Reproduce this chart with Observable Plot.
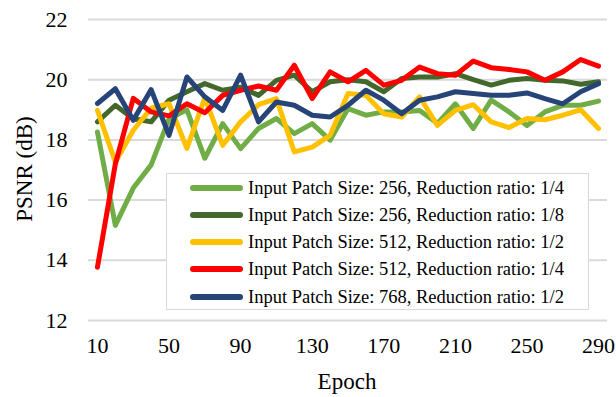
<!DOCTYPE html>
<html>
<head>
<meta charset="utf-8">
<script src="https://cdn.jsdelivr.net/npm/d3@7"></script>
<script src="https://cdn.jsdelivr.net/npm/@observablehq/plot@0.6"></script>
<style>
  html, body { margin: 0; padding: 0; background: #fff; }
  #wrap { position: relative; width: 616px; height: 397px; font-family: "Liberation Serif", "Times New Roman", serif; }
  #legend { position: absolute; left: 166px; top: 173px; width: 421px; height: 135px; border: 1.5px solid #d9d9d9; background: #fff; box-sizing: content-box; }
  .row { position: absolute; left: 0; height: 20px; display: flex; align-items: center; }
  .sw { width: 53px; height: 6px; border-radius: 3px; margin-left: 23px; margin-right: 5px; }
  .lbl { font-size: 18.5px; color: #000; white-space: nowrap; line-height: 20px; }
  .title { position: absolute; font-size: 23px; color: #000; white-space: nowrap; line-height: 26px; height: 26px; }
  #ytitle { left: 25px; top: 169px; transform: translate(-50%, -50%) rotate(-90deg); }
  #xtitle { left: 347px; top: 382px; transform: translate(-50%, -50%); }
</style>
</head>
<body>
<div id="wrap"></div>
<script>
const epochs = [10,20,30,40,50,60,70,80,90,100,110,120,130,140,150,160,170,180,190,200,210,220,230,240,250,260,270,280,290];
const xTicks = [10,50,90,130,170,210,250,290];
const yTicks = [12,14,16,18,20,22];
const xTitle = "Epoch";
const yTitle = "PSNR (dB)";
const seriesNames = [
  "Input Patch Size: 256, Reduction ratio: 1/4",
  "Input Patch Size: 256, Reduction ratio: 1/8",
  "Input Patch Size: 512, Reduction ratio: 1/2",
  "Input Patch Size: 512, Reduction ratio: 1/4",
  "Input Patch Size: 768, Reduction ratio: 1/2"
];
const seriesColors = ["#70AD47", "#43682B", "#FFC000", "#FF0000", "#264478"];
const p256r4 = [18.26,15.16,16.4,17.17,18.7,19.0,17.39,18.54,17.71,18.38,18.71,18.21,18.54,17.99,19.04,18.82,18.93,18.93,18.98,18.55,19.2,18.38,19.32,18.93,18.48,18.93,19.15,19.15,19.29];
const p256r8 = [18.6,19.15,18.7,18.6,19.32,19.6,19.87,19.65,19.75,19.48,19.98,20.15,19.6,19.93,20.0,19.93,19.6,20.04,20.09,20.09,20.2,20.0,19.82,19.98,20.04,19.98,19.96,19.85,19.93];
const p512r2 = [18.98,17.26,18.32,19.05,19.2,17.72,19.4,17.82,18.6,19.17,19.37,17.6,17.76,18.15,19.54,19.48,18.87,18.76,19.43,18.48,18.98,19.17,18.6,18.41,18.71,18.67,18.82,19.0,18.38];
const p512r4 = [13.77,17.2,19.38,18.93,18.8,19.2,18.9,19.48,19.65,19.79,19.65,20.48,19.37,20.26,19.93,20.31,19.82,19.98,20.42,20.2,20.15,20.62,20.4,20.34,20.26,19.98,20.26,20.67,20.45];
const p768r2 = [19.21,19.7,18.65,19.67,18.15,20.09,19.43,18.98,20.15,18.6,19.26,19.15,18.82,18.76,19.15,19.65,19.32,18.87,19.32,19.43,19.6,19.54,19.48,19.48,19.56,19.37,19.2,19.6,19.87];
const allSeries = [p256r4, p256r8, p512r2, p512r4, p768r2];

const data = [];
allSeries.forEach((vals, i) => vals.forEach((v, j) => data.push({series: seriesNames[i], epoch: epochs[j], psnr: v})));

const chart = Plot.plot({
  width: 616,
  height: 397,
  marginLeft: 88,
  marginRight: 9,
  marginTop: 19,
  marginBottom: 77,
  style: { fontFamily: "Liberation Serif, Times New Roman, serif", fontSize: "22px", color: "#000", background: "#fff" },
  x: { domain: [5, 295], ticks: xTicks },
  y: { domain: [12, 22], ticks: yTicks },
  color: { domain: seriesNames, range: seriesColors },
  marks: [
    Plot.gridY(yTicks, { stroke: "#d9d9d9", strokeOpacity: 1, strokeWidth: 2 }),
    Plot.axisY({ ticks: yTicks, tickSize: 0, tickPadding: 21, tickFormat: d => String(d), label: null }),
    Plot.axisX({ ticks: xTicks, tickSize: 0, tickPadding: 17, tickFormat: d => String(d), label: null }),
    Plot.lineY(data, { x: "epoch", y: "psnr", z: "series", stroke: "series", strokeWidth: 5, strokeLinejoin: "round", strokeLinecap: "round" })
  ]
});

const wrap = document.getElementById("wrap");
wrap.appendChild(chart);

const yt = document.createElement("div");
yt.id = "ytitle"; yt.className = "title"; yt.textContent = yTitle;
const xt = document.createElement("div");
xt.id = "xtitle"; xt.className = "title"; xt.textContent = xTitle;
wrap.appendChild(yt);
wrap.appendChild(xt);

const legend = document.createElement("div");
legend.id = "legend";
const rowCenters = [13.7, 41, 68.2, 95.4, 122.6];
seriesNames.forEach((name, i) => {
  const row = document.createElement("div");
  row.className = "row";
  row.style.top = (rowCenters[i] - 10) + "px";
  const sw = document.createElement("div");
  sw.className = "sw";
  sw.style.background = seriesColors[i];
  const lbl = document.createElement("span");
  lbl.className = "lbl";
  lbl.textContent = name;
  row.appendChild(sw);
  row.appendChild(lbl);
  legend.appendChild(row);
});
wrap.appendChild(legend);
</script>
</body>
</html>
